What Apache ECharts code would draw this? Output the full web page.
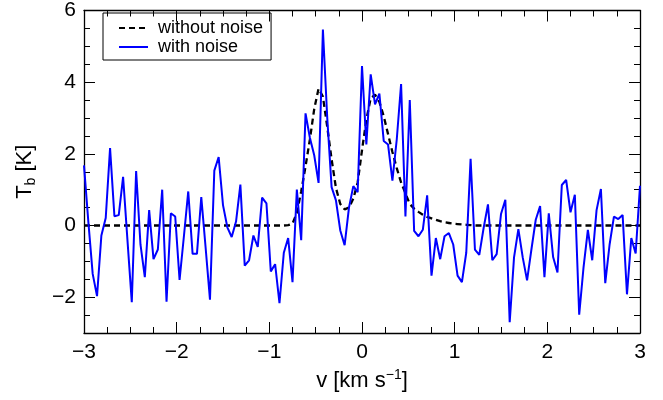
<!DOCTYPE html>
<html>
<head>
<meta charset="utf-8">
<script src="https://cdn.jsdelivr.net/npm/echarts@6/dist/echarts.min.js"></script>
<style>html,body{margin:0;padding:0;background:#fff}#c{width:663px;height:400px}</style>
</head>
<body>
<div id="c"></div>
<script>
// channel grid: 129 channels from -3 to 3 km/s
const channelStart = -3;
const channelWidth = 0.046875;
const withNoise = [
  1.68, 0.1, -1.35, -1.97, -0.28, 0.21, 2.16, 0.26, 0.29, 1.36,
  -0.4, -2.14, 1.52, -0.53, -1.44, 0.43, -0.94, -0.67, 1.0, -2.13,
  0.34, 0.25, -1.52, -0.3, 0.95, -0.79, -0.79, 0.79, -0.62, -2.07,
  1.53, 1.91, 0.57, -0.05, -0.32, 0.11, 1.14, -1.12, -0.97, -0.28,
  -0.60, 0.78, 0.62, -1.28, -1.08, -2.17, -0.76, -0.35, -1.58, 1.0,
  -0.41, 3.13, 2.45, 1.96, 1.19, 5.47, 3.0, 1.07, 0.7, -0.14,
  -0.55, 0.5, 1.10, 0.93, 4.45, 2.26, 4.22, 3.38, 3.68, 2.36,
  2.26, 1.25, 2.4, 3.95, 0.25, 3.5, -0.15, -0.30, -0.12, 0.84,
  -1.40, -0.35, -0.94, -0.30, -0.21, -0.53, -1.40, -1.58, -0.76, 1.86,
  -0.67, -0.82, -0.07, 0.59, -0.97, -0.80, 0.32, 0.72, -2.70, -0.89,
  -0.10, -0.89, -1.53, -0.67, 0.16, 0.54, -1.44, 0.34, -0.88, -1.31,
  1.13, 1.27, 0.37, 0.86, -2.49, -1.17, -0.12, -0.97, 0.43, 1.02,
  -1.61, -0.53, 0.25, 0.18, 0.29, -1.92, -0.35, -0.78, 1.11
];
const withoutNoise = [
  0, 0, 0, 0, 0, 0, 0, 0, 0, 0,
  0, 0, 0, 0, 0, 0, 0, 0, 0, 0,
  0, 0, 0, 0, 0, 0, 0, 0, 0, 0,
  0, 0, 0, 0, 0, 0, 0, 0, 0, 0,
  0, 0, 0, 0, 0, 0, 0, 0.01, 0.05, 0.35,
  0.95, 1.65, 2.40, 3.25, 3.82, 3.6, 2.75, 1.85, 1.05, 0.6,
  0.45, 0.5, 0.75, 1.2, 2.1, 2.95, 3.55, 3.65, 3.45, 3.05,
  2.55, 2.05, 1.6, 1.2, 0.9, 0.6, 0.47, 0.38, 0.3, 0.24,
  0.2, 0.16, 0.12, 0.09, 0.07, 0.05, 0.04, 0.03, 0.02, 0.01,
  0, 0, 0, 0, 0, 0, 0, 0, 0, 0,
  0, 0, 0, 0, 0, 0, 0, 0, 0, 0,
  0, 0, 0, 0, 0, 0, 0, 0, 0, 0,
  0, 0, 0, 0, 0, 0, 0, 0, 0
];
const yMajorTicks = [-2, 0, 2, 4, 6];
const seriesNames = ['without noise', 'with noise'];

const velocity = withNoise.map((_, i) => channelStart + i * channelWidth);
const pairs = arr => arr.map((t, i) => [velocity[i], t]);
const minus = v => String(v).replace('-', '\u2212');

const FONT = 'Liberation Sans, Arial, Helvetica, sans-serif';
const black = '#000';
const axLine = {show: true, onZero: false, lineStyle: {color: black, width: 1.3}};
const noLine = {show: false, onZero: false};

const chart = echarts.init(document.getElementById('c'), null, {renderer: 'canvas'});
chart.setOption({
  animation: false,
  backgroundColor: '#fff',
  textStyle: {fontFamily: FONT},
  grid: {left: 84, right: 23, top: 5, bottom: 67},
  legend: {
    orient: 'vertical', left: 103, top: 13,
    padding: [6, 8, 4, 15],
    borderColor: black, borderWidth: 1,
    itemWidth: 29, itemHeight: 14, itemGap: 1,
    textStyle: {fontSize: 18, color: black, fontFamily: FONT},
    itemStyle: {color: 'transparent', borderWidth: 0, opacity: 0},
    formatter: n => ' ' + n,
    data: seriesNames
  },
  xAxis: [
    {
      type: 'value', position: 'bottom', min: -3, max: 3, interval: 1,
      axisLine: axLine,
      axisTick: {inside: true, length: 11, lineStyle: {color: black, width: 1}},
      minorTick: {show: true, splitNumber: 4, length: 6, lineStyle: {color: black, width: 1}},
      splitLine: {show: false}, minorSplitLine: {show: false},
      axisLabel: {fontSize: 21, color: black, margin: 9, fontFamily: FONT, formatter: minus, showMinLabel: true, showMaxLabel: true},
      name: '{t|v [km s}{p|\u22121}{t|]}',
      nameLocation: 'middle', nameGap: 34,
      nameTextStyle: {rich: {
        t: {fontSize: 22, color: black, fontFamily: FONT},
        p: {fontSize: 14, color: black, fontFamily: FONT, padding: [0, 0, 12, 0]}
      }}
    },
    {
      type: 'value', position: 'top', min: -3, max: 3, interval: 1,
      axisLine: axLine,
      axisTick: {inside: true, length: 11, lineStyle: {color: black, width: 1}},
      minorTick: {show: true, splitNumber: 4, length: 6, lineStyle: {color: black, width: 1}},
      splitLine: {show: false}, axisLabel: {show: false}
    }
  ],
  yAxis: [
    {
      type: 'value', position: 'left', min: -3, max: 6, interval: 1,
      axisLine: axLine,
      axisTick: {inside: true, length: 11, customValues: yMajorTicks, lineStyle: {color: black, width: 1}},
      splitLine: {show: false},
      axisLabel: {fontSize: 21, color: black, margin: 8, fontFamily: FONT, customValues: yMajorTicks, formatter: minus},
      name: '{t|T}{s|b}{t| [K]}',
      nameLocation: 'middle', nameGap: 46, nameRotate: 90,
      nameTextStyle: {rich: {
        t: {fontSize: 22, color: black, fontFamily: FONT},
        s: {fontSize: 14, color: black, fontFamily: FONT, padding: [12, 0, 0, 0]}
      }}
    },
    {
      type: 'value', position: 'left', min: -3, max: 6, interval: 0.5,
      axisLine: noLine,
      axisTick: {inside: true, length: 6, lineStyle: {color: black, width: 1}},
      splitLine: {show: false}, axisLabel: {show: false}
    },
    {
      type: 'value', position: 'right', min: -3, max: 6, interval: 1,
      axisLine: axLine,
      axisTick: {inside: true, length: 11, customValues: yMajorTicks, lineStyle: {color: black, width: 1}},
      splitLine: {show: false}, axisLabel: {show: false}
    },
    {
      type: 'value', position: 'right', min: -3, max: 6, interval: 0.5,
      axisLine: noLine,
      axisTick: {inside: true, length: 6, lineStyle: {color: black, width: 1}},
      splitLine: {show: false}, axisLabel: {show: false}
    }
  ],
  series: [
    {
      name: seriesNames[0], type: 'line', xAxisIndex: 0, yAxisIndex: 0,
      data: pairs(withoutNoise), symbol: 'none', z: 2,
      lineStyle: {color: black, width: 2.3, type: [6, 4]},
      itemStyle: {color: black}
    },
    {
      name: seriesNames[1], type: 'line', xAxisIndex: 0, yAxisIndex: 0,
      data: pairs(withNoise), symbol: 'none', z: 3,
      lineStyle: {color: '#0000ff', width: 2},
      itemStyle: {color: '#0000ff'}
    }
  ]
});
</script>
</body>
</html>
